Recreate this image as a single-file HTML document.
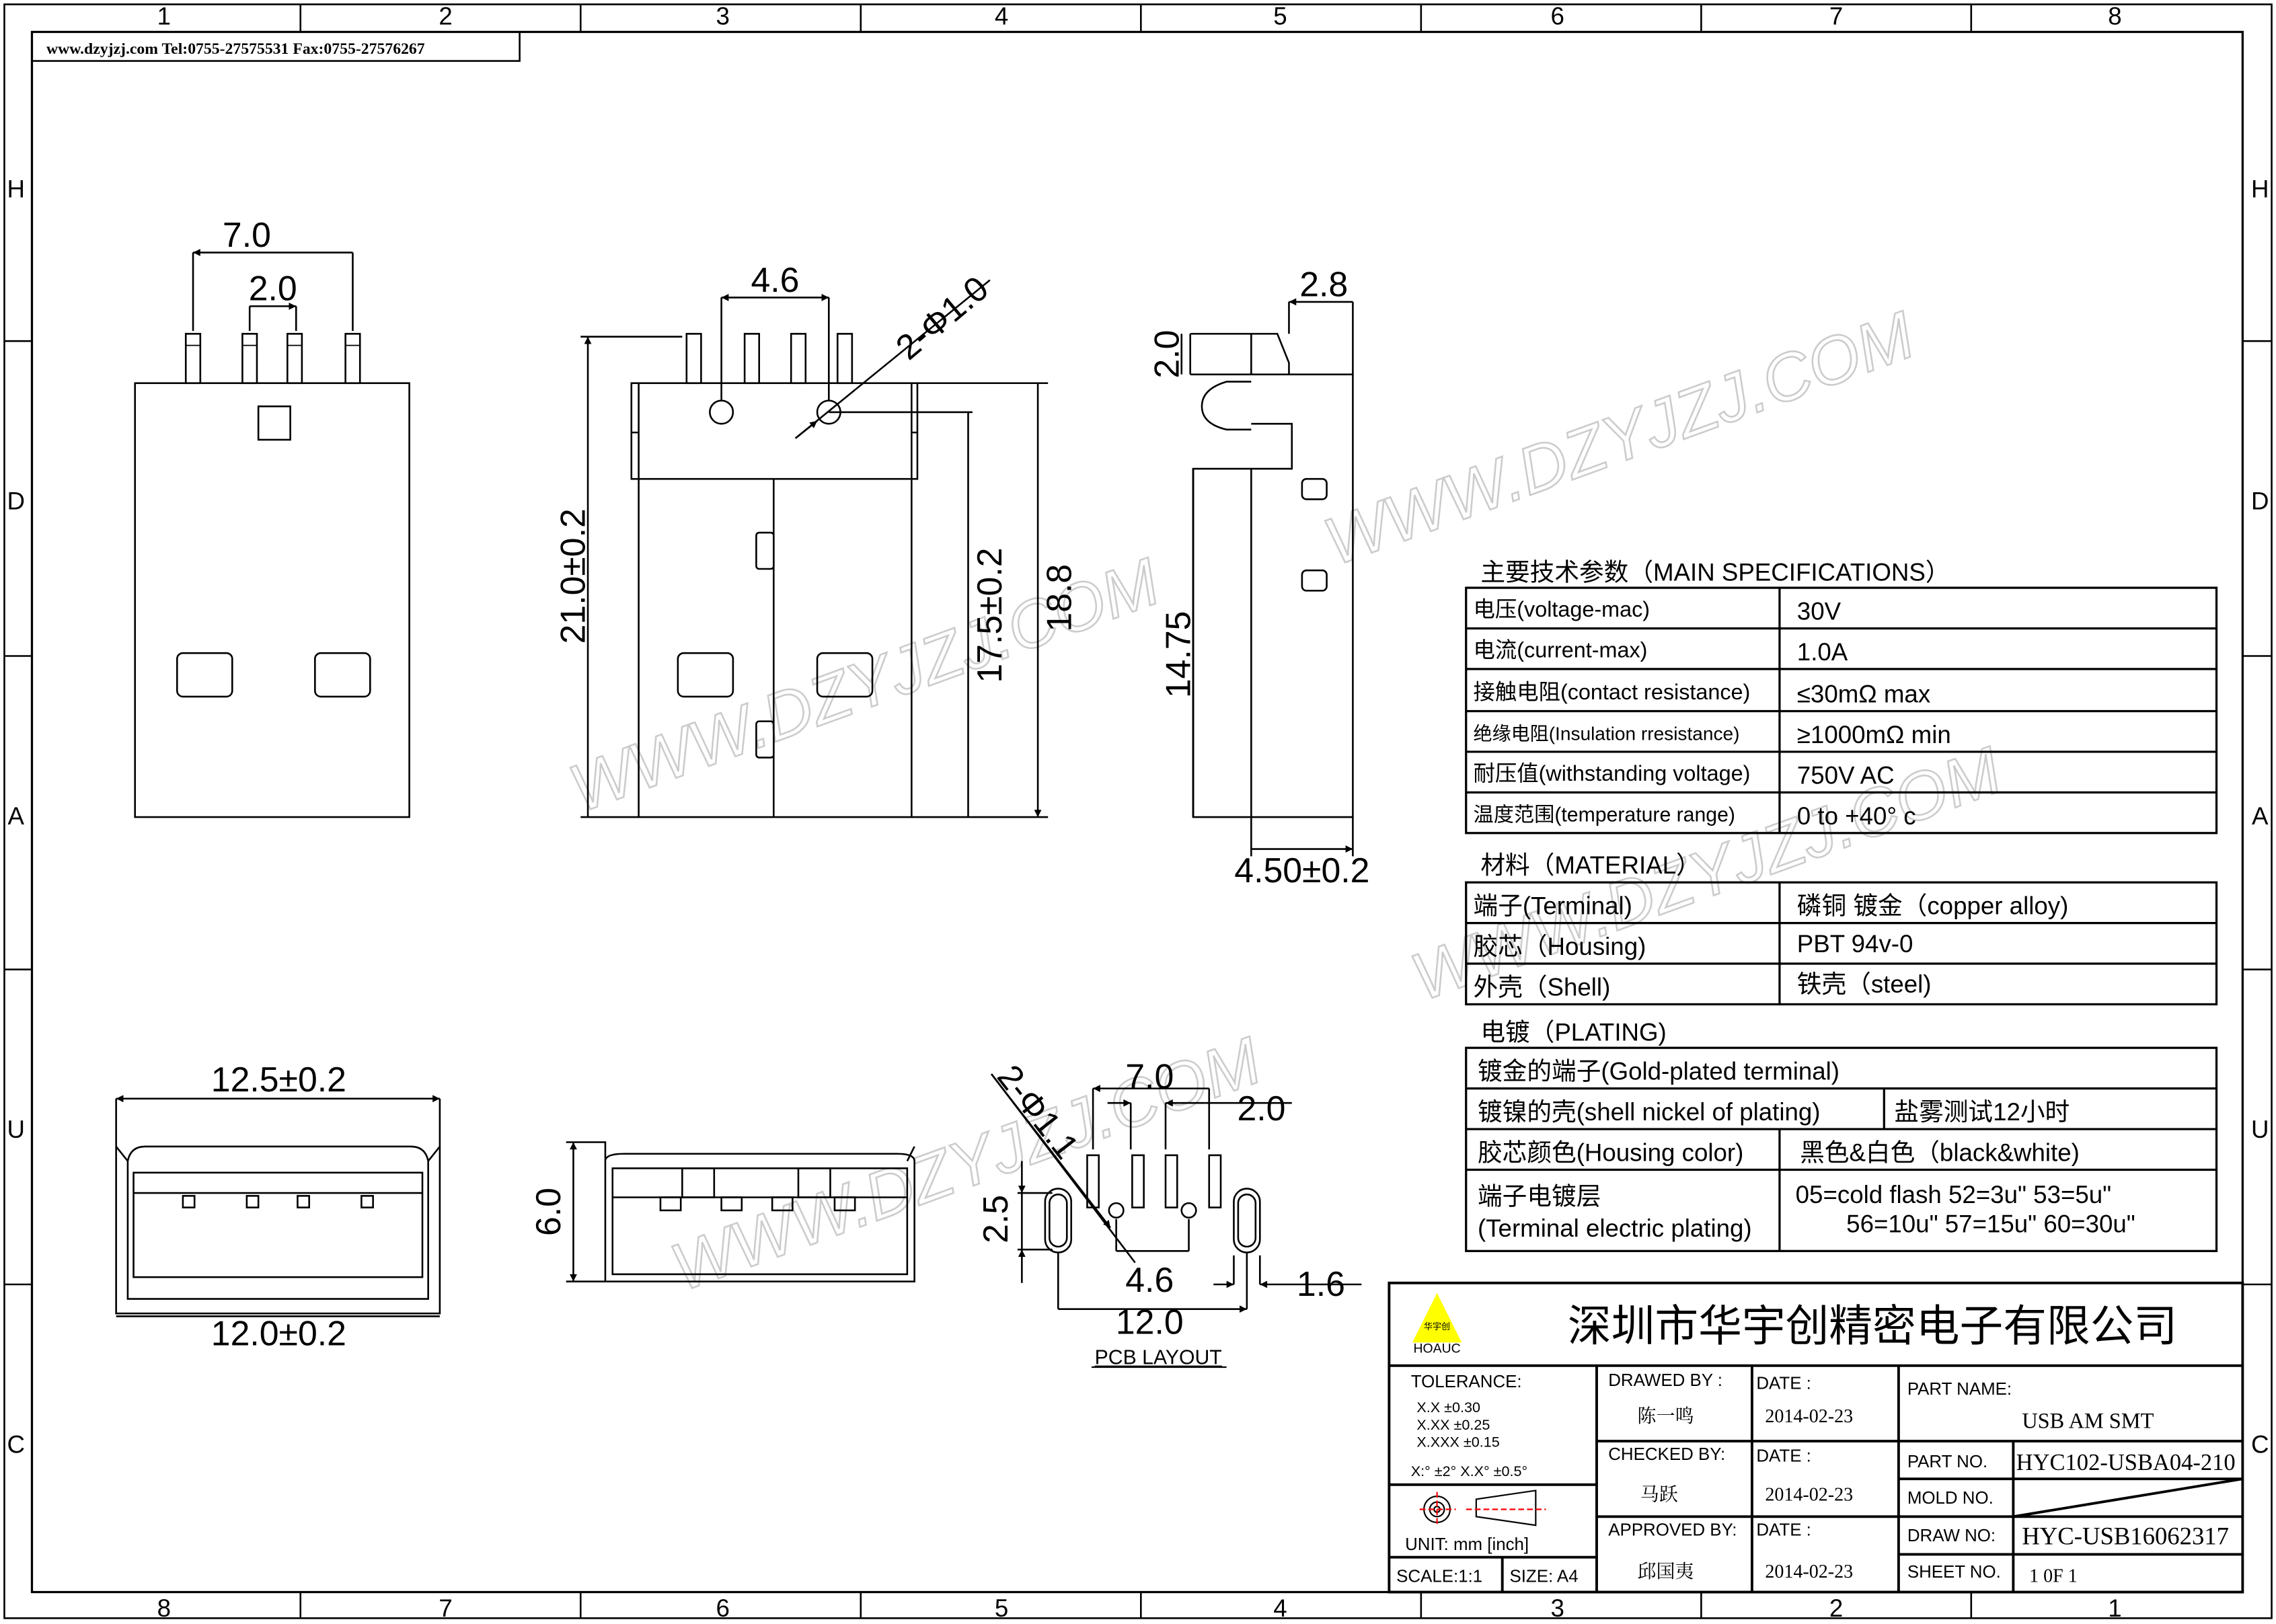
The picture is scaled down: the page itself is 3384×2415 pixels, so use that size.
<!DOCTYPE html>
<html><head><meta charset="utf-8"><style>
html,body{margin:0;padding:0;background:#fff}
svg{display:block}
text{font-family:"Liberation Sans","Noto Sans CJK SC",sans-serif;fill:#000}
.s{font-family:"Liberation Serif","Noto Serif CJK SC",serif}
</style></head><body>
<svg width="3384" height="2415" viewBox="0 0 1568 1119" preserveAspectRatio="none" xmlns="http://www.w3.org/2000/svg">
<defs>
<marker id="a" viewBox="0 0 10 10" refX="10" refY="5" markerWidth="9" markerHeight="5" orient="auto-start-reverse" markerUnits="userSpaceOnUse"><path d="M0,0L10,5L0,10z" fill="#000"/></marker>
</defs>
<g fill="none" stroke="#000" stroke-width="1.2">
<!-- frame -->
<rect x="3" y="3" width="1562" height="1112"/>
<rect x="22" y="22" width="1523" height="1075" stroke-width="1.5"/>
<path d="M207,3v19M400,3v19M593,3v19M786,3v19M979,3v19M1172,3v19M1358,3v19M207,1097v18M400,1097v18M593,1097v18M786,1097v18M979,1097v18M1172,1097v18M1358,1097v18M3,235h19M3,452h19M3,668h19M3,885h19M1545,235h20M1545,452h20M1545,668h20M1545,885h20"/>
<rect x="22" y="22" width="336" height="20"/>
</g>
<g font-size="17" text-anchor="middle">
<text x="113" y="17">1</text><text x="307" y="17">2</text><text x="498" y="17">3</text><text x="690" y="17">4</text><text x="882" y="17">5</text><text x="1073" y="17">6</text><text x="1265" y="17">7</text><text x="1457" y="17">8</text>
<text x="113" y="1114">8</text><text x="307" y="1114">7</text><text x="498" y="1114">6</text><text x="690" y="1114">5</text><text x="882" y="1114">4</text><text x="1073" y="1114">3</text><text x="1265" y="1114">2</text><text x="1457" y="1114">1</text>
<text x="11" y="136">H</text><text x="11" y="351">D</text><text x="11" y="568">A</text><text x="11" y="784">U</text><text x="11" y="1001">C</text>
<text x="1557" y="136">H</text><text x="1557" y="351">D</text><text x="1557" y="568">A</text><text x="1557" y="784">U</text><text x="1557" y="1001">C</text>
</g>
<text class="s" x="32" y="37" font-size="11" font-weight="bold">www.dzyjzj.com  Tel:0755-27575531  Fax:0755-27576267</text>

<!-- watermarks -->
<g font-size="46" fill="none" stroke="#ccc" stroke-width="1.2" font-family="Liberation Sans" font-style="italic">
<text x="920" y="390" transform="rotate(-20 920 390)" style="fill:none;stroke:#ccc">WWW.DZYJZJ.COM</text>
<text x="400" y="560" transform="rotate(-20 400 560)" style="fill:none;stroke:#ccc">WWW.DZYJZJ.COM</text>
<text x="980" y="690" transform="rotate(-20 980 690)" style="fill:none;stroke:#ccc">WWW.DZYJZJ.COM</text>
<text x="470" y="890" transform="rotate(-20 470 890)" style="fill:none;stroke:#ccc">WWW.DZYJZJ.COM</text>
</g>

<g fill="none" stroke="#000" stroke-width="1.2">
<!-- view 1 -->
<rect x="93" y="264" width="189" height="299"/>
<rect x="128" y="230" width="10" height="34"/><rect x="167" y="230" width="10" height="34"/><rect x="198" y="230" width="10" height="34"/><rect x="238" y="230" width="10" height="34"/>
<path d="M128,238h10M167,238h10M198,238h10M238,238h10" stroke-width="0.8"/>
<rect x="178" y="280" width="22" height="23"/>
<rect x="122" y="450" width="38" height="30" rx="4"/><rect x="217" y="450" width="38" height="30" rx="4"/>
<path d="M133,228V174M243,228V174M172,228V211M204,228V211"/>
<path d="M133,174H243M172,211H204" marker-start="url(#a)" marker-end="url(#a)"/>
<!-- view 2 -->
<rect x="435" y="264" width="197" height="66"/>
<path d="M440,330V563H628V330M440,264V330M628,264V330M435,298h5M628,298h4"/>
<rect x="473" y="230" width="10" height="34"/><rect x="513" y="230" width="10" height="34"/><rect x="545" y="230" width="10" height="34"/><rect x="577" y="230" width="10" height="34"/>
<circle cx="497" cy="284" r="8"/><circle cx="571" cy="284" r="8"/>
<path d="M533,330V563"/>
<rect x="521" y="367" width="12" height="25" rx="2"/><rect x="521" y="497" width="12" height="25" rx="2"/>
<rect x="467" y="450" width="38" height="30" rx="4"/><rect x="563" y="450" width="38" height="30" rx="4"/>
<path d="M497,276V205M571,276V205M400,232H470M400,563H440M632,264H722M571,284H670M628,563H722"/>
<path d="M497,205H571" marker-start="url(#a)" marker-end="url(#a)"/>
<path d="M405,232V563M667,284V563M715,264V563" marker-start="url(#a)" marker-end="url(#a)"/>
<path d="M548,302L682,193"/>
<path d="M548,302L563,290" marker-end="url(#a)"/>
<!-- view 3 side -->
<path d="M822,323H862V563H822zM862,258H932V563H862"/>
<path d="M862,258V230L880,230L888,250V258M820,230H880M820,258H862"/>
<path d="M862,263H845Q828,268 828,280Q828,292 845,296H862"/>
<path d="M862,292H890V323H862"/>
<rect x="897" y="330" width="17" height="14" rx="3"/><rect x="897" y="393" width="17" height="14" rx="3"/>
<path d="M888,208V230M932,208V258M820,230V258M822,323V563M862,563V590M932,563V590"/>
<path d="M888,208H932M814,230V258M822,323V563M862,585H932" marker-start="url(#a)" marker-end="url(#a)"/>
<!-- front view bottom -->
<path d="M80,757V905H303V757"/>
<path d="M80,790L88,800V895H295V800L303,790M88,800Q90,790 100,790H283Q293,790 295,800"/>
<rect x="92" y="808" width="199" height="72"/>
<path d="M92,822H291"/>
<rect x="126" y="824" width="8" height="8"/><rect x="170" y="824" width="8" height="8"/><rect x="205" y="824" width="8" height="8"/><rect x="249" y="824" width="8" height="8"/>
<path d="M80,757H303" marker-start="url(#a)" marker-end="url(#a)"/>
<path d="M80,907H303"/>
<!-- side bottom view 5 -->
<path d="M390,787H417V883H390M417,800Q417,795 430,795H618Q630,795 630,800V883H417M630,790L625,800M417,787V883"/>
<rect x="422" y="805" width="203" height="73"/>
<path d="M422,825H625"/>
<rect x="470" y="805" width="22" height="20"/><rect x="550" y="805" width="22" height="20"/>
<rect x="455" y="825" width="14" height="9"/><rect x="497" y="825" width="14" height="9"/><rect x="532" y="825" width="14" height="9"/><rect x="575" y="825" width="14" height="9"/>
<path d="M395,787V883" marker-start="url(#a)" marker-end="url(#a)"/>
<!-- PCB layout -->
<rect x="749" y="796" width="8" height="36"/><rect x="780" y="796" width="8" height="36"/><rect x="803" y="796" width="8" height="36"/><rect x="833" y="796" width="8" height="36"/>
<circle cx="769" cy="834" r="5"/><circle cx="819" cy="834" r="5"/>
<rect x="720" y="819" width="18" height="44" rx="9"/><rect x="723" y="823" width="12" height="36" rx="6"/>
<rect x="850" y="819" width="18" height="44" rx="9"/><rect x="853" y="823" width="12" height="36" rx="6"/>
<path d="M753,792V750M833,792V750M779,792V760M803,792V760M769,840V862M819,840V862M729,863V902M859,863V902M850,865V885M868,865V885M701,822H725M701,861H725"/>
<path d="M753,750H833M769,862H819M729,902H859" marker-start="url(#a)" marker-end="url(#a)"/>
<path d="M763,760H779" marker-end="url(#a)"/><path d="M830,760H803" marker-end="url(#a)"/><path d="M830,760H890"/>
<path d="M836,885H850" marker-end="url(#a)"/><path d="M882,885H868" marker-end="url(#a)"/><path d="M882,885H938"/>
<path d="M704,800V822" marker-end="url(#a)"/><path d="M704,884V861" marker-end="url(#a)"/><path d="M704,822V861"/>
<path d="M683,740L782,870"/><path d="M683,740L765,846" marker-end="url(#a)"/>
</g>
<!-- dims text -->
<g font-size="24" font-family="Liberation Sans">
<text x="170" y="170" text-anchor="middle">7.0</text>
<text x="188" y="207" text-anchor="middle">2.0</text>
<text x="534" y="201" text-anchor="middle">4.6</text>
<text x="912" y="204" text-anchor="middle">2.8</text>
<text x="626" y="249" transform="rotate(-40 626 249)">2-Φ1.0</text>
<text transform="translate(403,397) rotate(-90)" text-anchor="middle">21.0±0.2</text>
<text transform="translate(690,424) rotate(-90)" text-anchor="middle">17.5±0.2</text>
<text transform="translate(738,412) rotate(-90)" text-anchor="middle">18.8</text>
<text transform="translate(812,244) rotate(-90)" text-anchor="middle">2.0</text>
<text transform="translate(820,451) rotate(-90)" text-anchor="middle">14.75</text>
<text x="897" y="608" text-anchor="middle">4.50±0.2</text>
<text x="192" y="752" text-anchor="middle">12.5±0.2</text>
<text x="192" y="927" text-anchor="middle">12.0±0.2</text>
<text transform="translate(386,835) rotate(-90)" text-anchor="middle">6.0</text>
<text x="792" y="750" text-anchor="middle">7.0</text>
<text x="869" y="772" text-anchor="middle">2.0</text>
<text x="792" y="890" text-anchor="middle">4.6</text>
<text x="910" y="893" text-anchor="middle">1.6</text>
<text x="792" y="919" text-anchor="middle">12.0</text>
<text transform="translate(694,840) rotate(-90)" text-anchor="middle">2.5</text>
<text x="686" y="742" transform="rotate(52 686 742)">2-Φ1.1</text>
</g>
<text x="798" y="940" font-size="14" text-anchor="middle" text-decoration="underline">PCB LAYOUT</text>
<path d="M752,942H845" stroke="#000"/>

<!-- spec tables -->
<g fill="none" stroke="#000" stroke-width="1.5">
<rect x="1010" y="405" width="517" height="169"/>
<path d="M1010,433H1527M1010,461H1527M1010,490H1527M1010,518H1527M1010,546H1527M1226,405V574"/>
<rect x="1010" y="608" width="517" height="84"/>
<path d="M1010,636H1527M1010,664H1527M1226,608V692"/>
<rect x="1010" y="722" width="517" height="140"/>
<path d="M1010,750H1527M1010,778H1527M1010,806H1527M1298,750V778M1226,778V862"/>
</g>
<g font-size="17">
<text x="1020" y="400">主要技术参数（MAIN SPECIFICATIONS）</text>
<text x="1015" y="425" font-size="15">电压(voltage-mac)</text><text x="1238" y="427">30V</text>
<text x="1015" y="453" font-size="15">电流(current-max)</text><text x="1238" y="455">1.0A</text>
<text x="1015" y="482" font-size="15">接触电阻(contact resistance)</text><text x="1238" y="484">≤30mΩ max</text>
<text x="1015" y="510" font-size="13">绝缘电阻(Insulation rresistance)</text><text x="1238" y="512">≥1000mΩ min</text>
<text x="1015" y="538" font-size="15">耐压值(withstanding voltage)</text><text x="1238" y="540">750V AC</text>
<text x="1015" y="566" font-size="14">温度范围(temperature range)</text><text x="1238" y="568">0 to +40° c</text>
<text x="1020" y="602">材料（MATERIAL）</text>
<text x="1015" y="630">端子(Terminal)</text><text x="1238" y="630">磷铜 镀金（copper alloy)</text>
<text x="1015" y="658">胶芯（Housing)</text><text x="1238" y="656">PBT 94v-0</text>
<text x="1015" y="686">外壳（Shell)</text><text x="1238" y="684">铁壳（steel)</text>
<text x="1020" y="717">电镀（PLATING)</text>
<text x="1018" y="744">镀金的端子(Gold-plated terminal)</text>
<text x="1018" y="772">镀镍的壳(shell nickel of plating)</text><text x="1305" y="772">盐雾测试12小时</text>
<text x="1018" y="800">胶芯颜色(Housing color)</text><text x="1240" y="800">黑色&amp;白色（black&amp;white)</text>
<text x="1018" y="830">端子电镀层</text><text x="1018" y="852">(Terminal electric plating)</text>
<text x="1237" y="829">05=cold flash  52=3u"    53=5u"</text>
<text x="1272" y="849">56=10u"  57=15u"  60=30u"</text>
</g>

<!-- title block -->
<g fill="none" stroke="#000" stroke-width="1.8">
<rect x="957" y="884" width="588" height="213"/>
<path d="M957,941H1545M1100,941V1097M1207,941V1097M1308,941V1097M1387,993V1097M1100,993H1308M1100,1045H1308M1308,993H1545M1308,1019H1545M1308,1045H1545M1308,1071H1545M957,1023H1100M957,1073H1100M1035,1073V1097M1387,1045L1545,1019"/>
</g>
<path d="M990,891L973,925H1007z" fill="#ff0"/>
<text x="990" y="916" font-size="6" text-anchor="middle">华宇创</text>
<text x="990" y="932" font-size="9" text-anchor="middle">HOAUC</text>
<text x="1290" y="924" font-size="30" text-anchor="middle" font-family="Liberation Sans,'Noto Sans CJK SC',sans-serif">深圳市华宇创精密电子有限公司</text>
<g font-size="12">
<text x="972" y="956">TOLERANCE:</text>
<text x="976" y="973" font-size="10">X.X    ±0.30</text>
<text x="976" y="985" font-size="10">X.XX   ±0.25</text>
<text x="976" y="997" font-size="10">X.XXX  ±0.15</text>
<text x="972" y="1017" font-size="10">X:° ±2°      X.X° ±0.5°</text>
<text x="968" y="1068">UNIT:  mm  [inch]</text>
<text x="962" y="1090">SCALE:1:1</text><text x="1040" y="1090">SIZE:  A4</text>
<text x="1108" y="955">DRAWED BY :</text><text x="1210" y="957">DATE :</text>
<text x="1108" y="1006">CHECKED BY:</text><text x="1210" y="1007">DATE :</text>
<text x="1108" y="1058">APPROVED BY:</text><text x="1210" y="1058">DATE :</text>
<text x="1314" y="961">PART NAME:</text>
<text x="1314" y="1011">PART NO.</text><text x="1314" y="1036">MOLD NO.</text>
<text x="1314" y="1062">DRAW NO:</text><text x="1314" y="1087">SHEET NO.</text>
</g>
<g class="s" font-size="13">
<text x="1128" y="980" class="s">陈一鸣</text><text x="1216" y="980" class="s">2014-02-23</text>
<text x="1130" y="1034" class="s">马跃</text><text x="1216" y="1034" class="s">2014-02-23</text>
<text x="1128" y="1087" class="s">邱国夷</text><text x="1216" y="1087" class="s">2014-02-23</text>
<text x="1393" y="984" class="s" font-size="15">USB  AM  SMT</text>
<text x="1389" y="1013" class="s" font-size="16">HYC102-USBA04-210</text>
<text x="1393" y="1064" class="s" font-size="17">HYC-USB16062317</text>
<text x="1398" y="1090" class="s">1  0F  1</text>
</g>
<g fill="none" stroke="#000">
<circle cx="990" cy="1040" r="9"/><circle cx="990" cy="1040" r="5"/><circle cx="990" cy="1040" r="2"/>
<path d="M1017,1033L1058,1027V1051L1017,1045z"/>
<path d="M978,1040H1003M990,1028V1052M1010,1040H1065" stroke="#f00" stroke-dasharray="4,2"/>
</g>
</svg>
</body></html>
